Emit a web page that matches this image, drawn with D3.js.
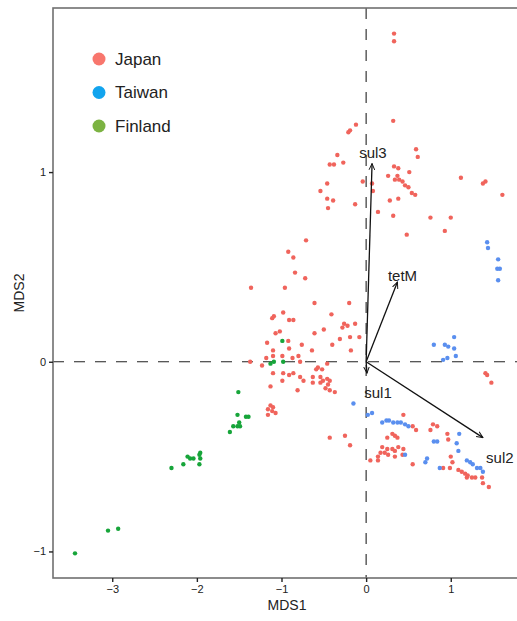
<!DOCTYPE html>
<html>
<head>
<meta charset="utf-8">
<script src="https://cdn.jsdelivr.net/npm/d3@7"></script>
<style>
  body { margin: 0; background: #fff; }
  svg { display: block; font-family: "Liberation Sans", Arial, Helvetica, sans-serif; }
</style>
</head>
<body>
<svg id="chart" width="517" height="621"></svg>
<script>
// MDS scores, [MDS1, MDS2]
const japan = [
  [0.33,1.73],[0.33,1.69],[0.32,1.27],[-0.19,1.22],[-0.12,1.25],[-0.21,1.21],[-0.34,1.09],
  [-0.43,1.04],[-0.38,1.04],[-0.27,1.05],[-0.46,0.94],[-0.54,0.90],[-0.46,0.86],[-0.39,0.85],
  [-0.45,0.81],[-0.13,0.83],[-0.04,0.95],[0.07,0.94],[0.08,0.90],[0.14,0.79],[0.28,0.85],
  [0.38,0.86],[0.59,1.12],[0.61,1.08],[0.33,1.03],[0.38,1.02],[0.26,0.98],[0.37,0.98],
  [0.51,1.00],[0.34,0.96],[0.39,0.96],[0.43,0.95],[0.46,0.93],[0.50,0.92],[0.54,0.89],
  [0.58,0.88],[0.32,0.77],[1.12,0.97],[1.38,0.94],[1.41,0.95],[1.61,0.88],[0.76,0.76],
  [1.00,0.76],[0.93,0.69],[0.48,0.67],
  [-0.71,0.64],[-0.92,0.58],[-0.86,0.55],[-0.84,0.47],[-0.72,0.44],[-1.36,0.39],[-0.96,0.39],
  [-0.61,0.31],[-0.20,0.31],[-0.41,0.25],[-1.09,0.24],[-1.11,0.23],[-0.98,0.26],[-0.91,0.22],
  [-0.86,0.22],[-0.26,0.20],[-0.22,0.19],[-0.28,0.18],[-0.13,0.20],[-0.50,0.17],[-0.61,0.15],
  [-1.07,0.15],[-1.02,0.16],[-0.92,0.11],[-0.31,0.12],[-0.19,0.13],[-0.08,0.13],[-1.17,0.10],
  [-0.76,0.09],[-1.10,0.06],[-1.18,0.02],[-1.10,0.03],[-0.99,0.03],[-0.91,0.07],[-0.80,0.03],
  [-0.64,0.06],[-0.40,0.09],[-0.18,0.06],[-1.23,-0.02],[-1.37,0.00],[-0.87,0.02],[-0.78,0.00],
  [-0.57,-0.03],[-0.52,-0.04],[-0.59,-0.04],[-0.46,-0.01],[-1.10,-0.06],[-0.98,-0.06],
  [-0.91,-0.07],[-0.86,-0.06],[-0.78,-0.08],[-0.63,-0.08],[-0.54,-0.08],[-0.51,-0.10],
  [-0.46,-0.09],[-0.43,-0.10],[-0.54,-0.11],[-0.45,-0.12],[-0.48,-0.14],[-0.43,-0.15],
  [-0.37,-0.16],[-0.99,-0.10],[-0.74,-0.10],[-0.63,-0.11],[-1.13,-0.13],[-0.81,-0.15],
  [-1.13,-0.23],[-1.10,-0.24],[-1.16,-0.25],[-1.11,-0.26],[-1.07,-0.27],[-1.16,-0.28],
  [-0.43,-0.40],[-0.25,-0.39],[-0.19,-0.44],
  [1.41,-0.06],[1.43,-0.07],[1.48,-0.11],
  [0.44,-0.28],[0.55,-0.34],[0.59,-0.36],[0.79,-0.33],[0.76,-0.36],[0.96,-0.38],[0.84,-0.34],
  [0.25,-0.40],[0.31,-0.38],[0.37,-0.40],[0.34,-0.39],[0.97,-0.41],[0.19,-0.45],[0.25,-0.46],
  [0.31,-0.46],[0.34,-0.47],[0.17,-0.48],[0.22,-0.48],[0.38,-0.45],[0.14,-0.50],[0.26,-0.49],
  [0.34,-0.50],[0.05,-0.52],[0.14,-0.52],[0.55,-0.54],[1.00,-0.50],[1.02,-0.53],[0.91,-0.56],
  [0.99,-0.56],[1.09,-0.57],[1.13,-0.58],[1.17,-0.59],[1.20,-0.60],[1.25,-0.61],[1.19,-0.61],
  [1.29,-0.61],[1.37,-0.61],[1.38,-0.64],[1.45,-0.66],[0.43,-0.49],[0.44,-0.46]
];

const taiwan = [
  [1.43,0.63],[1.44,0.60],[1.56,0.54],[1.55,0.49],[1.58,0.49],[1.56,0.43],
  [0.80,0.09],[0.93,0.09],[0.97,0.08],[1.04,0.13],[1.04,0.07],[1.06,0.03],[0.96,0.02],[0.91,0.01],
  [-0.15,-0.22],
  [0.02,-0.28],[0.07,-0.27],[0.19,-0.32],[0.24,-0.31],[0.27,-0.31],[0.32,-0.32],[0.37,-0.32],
  [0.41,-0.32],[0.46,-0.33],[0.50,-0.34],
  [1.10,-0.38],[0.80,-0.42],[0.84,-0.42],[1.07,-0.43],[1.09,-0.47],[0.46,-0.49],[0.72,-0.51],
  [0.70,-0.53],[0.87,-0.56],[1.19,-0.52],[1.23,-0.53],[1.26,-0.54],[1.31,-0.56],[1.35,-0.56],
  [1.38,-0.58]
];

const finland = [
  [-0.99,0.11],[-1.13,-0.01],[-1.09,0.00],[-0.98,0.00],[-1.51,-0.16],[-1.52,-0.28],[-1.42,-0.29],
  [-1.39,-0.29],[-1.50,-0.32],[-1.52,-0.34],[-1.57,-0.34],[-1.61,-0.37],[-1.49,-0.34],
  [-1.96,-0.48],[-1.97,-0.49],[-1.96,-0.51],[-2.11,-0.50],[-2.08,-0.51],[-2.04,-0.51],
  [-1.97,-0.54],[-2.16,-0.54],[-2.30,-0.56],[-2.93,-0.88],[-3.05,-0.89],[-3.44,-1.01]
];

// fitted gene vectors: name, tip, label position
const vectorNames = ["sul3", "tetM", "sul1", "sul2"];
const vectorTips = [[0.07,1.045],[0.37,0.42],[0.01,-0.06],[1.38,-0.40]];
const vectorLabels = [[0.08,1.10],[0.43,0.455],[0.14,-0.165],[1.58,-0.505]];

const countries = ["Japan", "Taiwan", "Finland"];
const legendColors = ["#f8766d", "#12a4ee", "#7cb342"];
const pointColors = ["#f0645c", "#5a8fef", "#17a53a"];

const xTicks = [-3, -2, -1, 0, 1];
const yTicks = [-1, 0, 1];

const svg = d3.select("#chart");
const margin = {left: 53, top: 8, right: 521, bottom: 578};

const x = d3.scaleLinear().domain([-3.70, 1.83]).range([margin.left, margin.right]);
const y = d3.scaleLinear().domain([-1.14, 1.865]).range([margin.bottom, margin.top]);

// reference lines
svg.append("line")
  .attr("x1", margin.left).attr("x2", margin.right)
  .attr("y1", y(0)).attr("y2", y(0))
  .attr("stroke", "#222").attr("stroke-width", 1.1)
  .attr("stroke-dasharray", "11,10");
svg.append("line")
  .attr("x1", x(0)).attr("x2", x(0))
  .attr("y1", margin.top).attr("y2", margin.bottom)
  .attr("stroke", "#222").attr("stroke-width", 1.1)
  .attr("stroke-dasharray", "11,10");

// points
[japan, taiwan, finland].forEach((pts, i) => {
  svg.append("g").selectAll("circle")
    .data(pts)
    .enter().append("circle")
    .attr("cx", d => x(d[0]))
    .attr("cy", d => y(d[1]))
    .attr("r", 2.2)
    .attr("fill", pointColors[i]);
});

// arrows
svg.append("defs").append("marker")
  .attr("id", "arrow")
  .attr("viewBox", "0 -5 10 10")
  .attr("refX", 9).attr("refY", 0)
  .attr("markerWidth", 7).attr("markerHeight", 7)
  .attr("markerUnits", "userSpaceOnUse")
  .attr("orient", "auto")
  .append("path")
  .attr("d", "M0,-4L9,0L0,4")
  .attr("fill", "none")
  .attr("stroke", "#111")
  .attr("stroke-width", 1.4);

svg.append("g").selectAll("line")
  .data(vectorTips)
  .enter().append("line")
  .attr("x1", x(0)).attr("y1", y(0))
  .attr("x2", d => x(d[0])).attr("y2", d => y(d[1]))
  .attr("stroke", "#111").attr("stroke-width", 1.3)
  .attr("marker-end", "url(#arrow)");

svg.append("g").selectAll("text")
  .data(vectorLabels)
  .enter().append("text")
  .attr("x", d => x(d[0]))
  .attr("y", d => y(d[1]))
  .attr("dy", "0.35em")
  .attr("text-anchor", "middle")
  .attr("font-size", 15)
  .attr("fill", "#222")
  .text((d, i) => vectorNames[i]);

// frame
svg.append("rect")
  .attr("x", margin.left).attr("y", margin.top)
  .attr("width", margin.right - margin.left)
  .attr("height", margin.bottom - margin.top)
  .attr("fill", "none")
  .attr("stroke", "#707070").attr("stroke-width", 1.6);

// axes
const xAxis = svg.append("g")
  .attr("transform", `translate(0,${margin.bottom})`)
  .call(d3.axisBottom(x).tickValues(xTicks).tickSize(4).tickPadding(3).tickFormat(d3.format("d")));
const yAxis = svg.append("g")
  .attr("transform", `translate(${margin.left},0)`)
  .call(d3.axisLeft(y).tickValues(yTicks).tickSize(4).tickPadding(3).tickFormat(d3.format("d")));
[xAxis, yAxis].forEach(a => {
  a.select(".domain").remove();
  a.selectAll(".tick line").attr("stroke", "#222").attr("stroke-width", 1.4);
  a.selectAll(".tick text").attr("font-size", 11).attr("fill", "#222")
    .attr("font-family", "'Liberation Sans', Arial, sans-serif");
});

svg.append("text")
  .attr("x", (margin.left + margin.right) / 2)
  .attr("y", 610)
  .attr("text-anchor", "middle")
  .attr("font-size", 14)
  .attr("fill", "#222")
  .text("MDS1");
svg.append("text")
  .attr("transform", `translate(24,${(margin.top + margin.bottom) / 2}) rotate(-90)`)
  .attr("text-anchor", "middle")
  .attr("font-size", 14)
  .attr("fill", "#222")
  .text("MDS2");

// legend
const legend = svg.append("g").selectAll("g")
  .data(countries)
  .enter().append("g")
  .attr("transform", (d, i) => `translate(99,${59 + i * 33.5})`);
legend.append("circle")
  .attr("r", 6.5)
  .attr("fill", (d, i) => legendColors[i]);
legend.append("text")
  .attr("x", 16)
  .attr("dy", "0.35em")
  .attr("font-size", 17)
  .attr("fill", "#222")
  .text(d => d);
</script>
</body>
</html>
